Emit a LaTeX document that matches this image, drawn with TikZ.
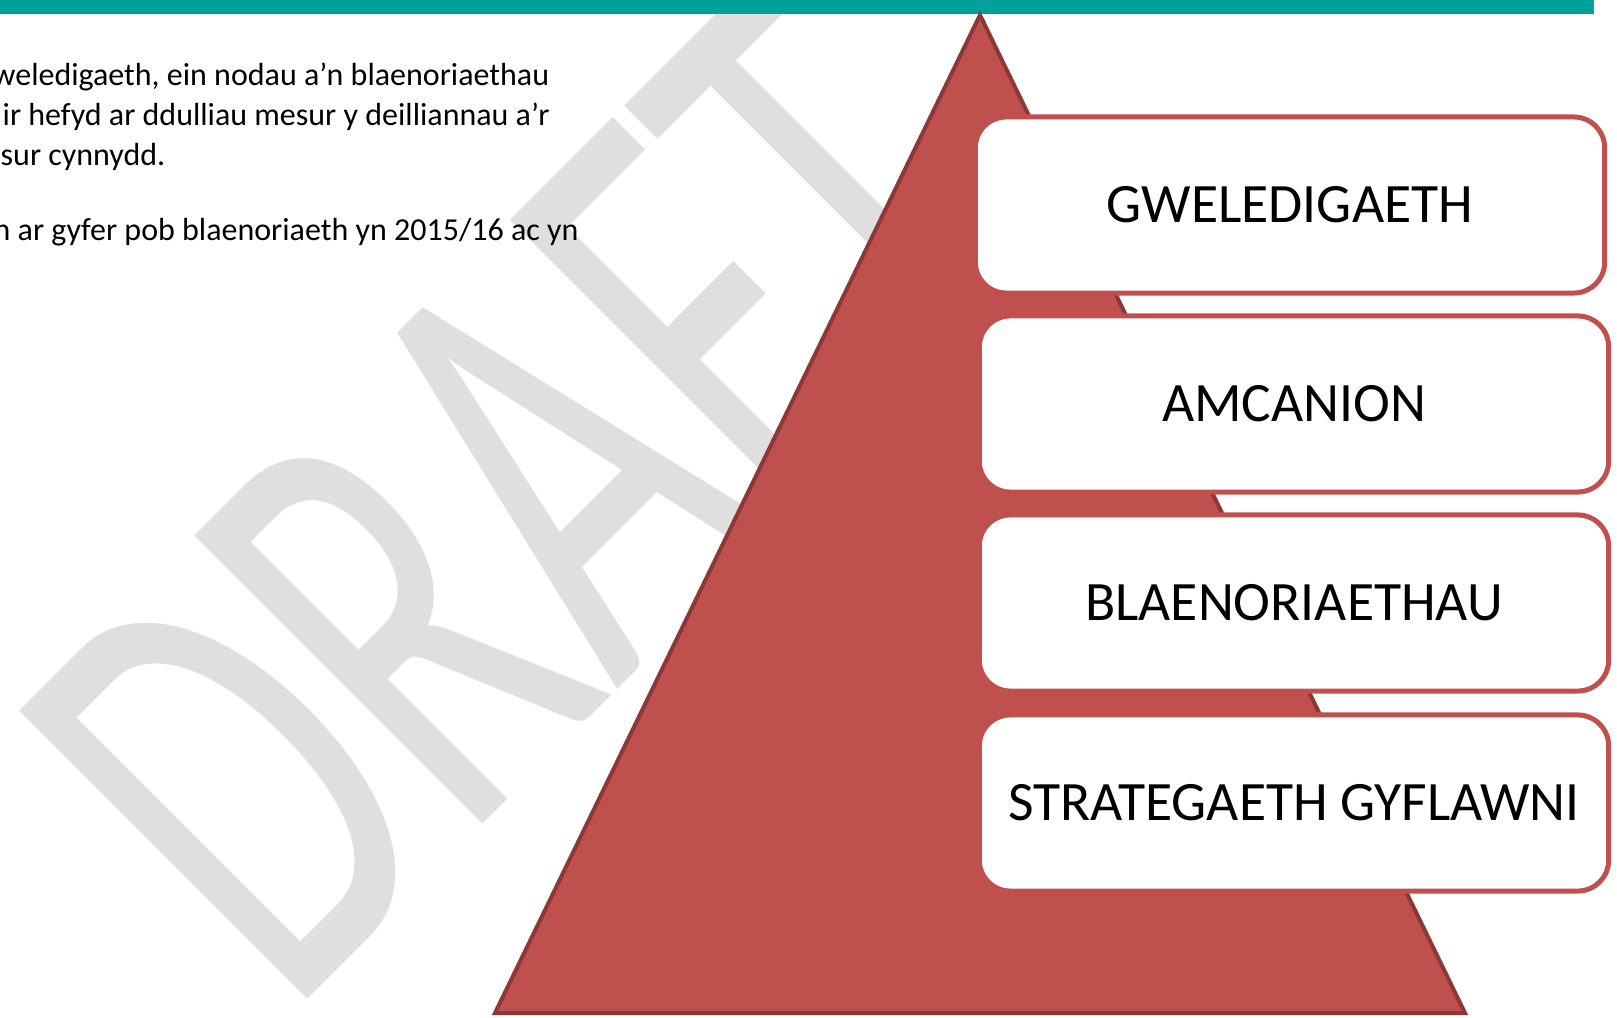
\documentclass[tikz,border=0pt]{standalone}
\usepackage{fontspec}
\setmainfont{Carlito}
\usepackage{graphicx}
\definecolor{tealbar}{RGB}{0,161,154}
\definecolor{pyramidred}{RGB}{192,80,77}
\definecolor{pyramidedge}{RGB}{140,56,54}
\definecolor{draftgrey}{RGB}{223,223,223}

\begin{document}
\begin{tikzpicture}[x=0.01cm, y=-0.01cm,
  level/.style={draw=pyramidred, line width=1.42pt, fill=white, rounded corners=0.31cm,
    minimum width=6.29cm, minimum height=1.76cm, inner sep=0pt,
    font=\fontsize{15.8}{19}\selectfont},
  body/.style={anchor=base west, inner sep=0pt, font=\fontsize{9.1}{11}\selectfont}]
  \def\pyramid{(980,15) -- (1465,1013) -- (495,1013) -- cycle}

  \useasboundingbox (0,0) rectangle (1617,1018);

  % Watermark
  \node[rotate=45, anchor=base west, inner sep=0pt, text=draftgrey] (draft) at (288,1019)
    {\scalebox{0.63}[1]{\fontsize{180.6}{181}\selectfont DRAFT}};

  % Header bar and text
  \fill[tealbar] (0,0) rectangle (1594,14);
  \node[body] (line1) at (-8,86)  {weledigaeth, ein nodau a’n blaenoriaethau};
  \node[body] (line2) at (2,126)  {ir hefyd ar ddulliau mesur y deilliannau a’r};
  \node[body] (line3) at (0,165)  {sur cynnydd.};
  \node[body] (line4) at (-7,240) {n ar gyfer pob blaenoriaeth yn 2015/16 ac yn};

  % Draw the pyramid
  \filldraw[fill=pyramidred, draw=pyramidedge, line width=1.14pt] \pyramid;

  % Levels
  \node[level] (vision)   at (1290,205) {GWELEDIGAETH};
  \node[level] (aims)     at (1294,404) {AMCANION};
  \node[level] (priority) at (1294,603) {BLAENORIAETHAU};
  \node[level] (delivery) at (1294,803) {STRATEGAETH GYFLAWNI};

\end{tikzpicture}
\end{document}
